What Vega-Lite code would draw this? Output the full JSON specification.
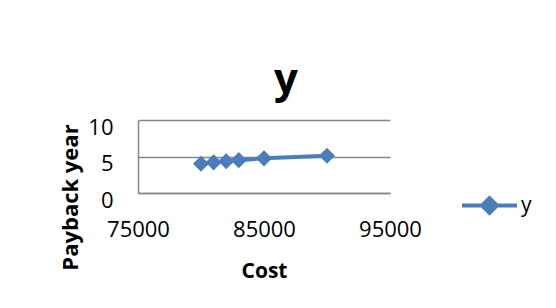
{
  "$schema": "https://vega.github.io/schema/vega-lite/v6.json",
  "width": 252,
  "height": 73,
  "autosize": {"type": "none"},
  "padding": {"left": 138, "top": 120, "right": 166, "bottom": 115},
  "background": "white",
  "title": {
    "text": "y",
    "fontSize": 42,
    "font": "Open Sans",
    "fontWeight": "bold",
    "color": "black",
    "anchor": "middle",
    "frame": "group",
    "dx": 22,
    "offset": 14
  },
  "data": {
    "values": [
      {"cost": 80000, "year": 4.0, "series": "y"},
      {"cost": 81000, "year": 4.2, "series": "y"},
      {"cost": 82000, "year": 4.35, "series": "y"},
      {"cost": 83000, "year": 4.5, "series": "y"},
      {"cost": 85000, "year": 4.75, "series": "y"},
      {"cost": 90000, "year": 5.1, "series": "y"}
    ]
  },
  "mark": {
    "type": "line",
    "strokeWidth": 4,
    "point": {"shape": "diamond", "size": 260, "filled": true, "opacity": 1}
  },
  "encoding": {
    "x": {
      "field": "cost",
      "type": "quantitative",
      "title": "Cost",
      "scale": {"domain": [75000, 95000], "nice": false, "zero": false},
      "axis": {
        "values": [75000, 85000, 95000],
        "format": "d",
        "grid": false,
        "ticks": false,
        "domainColor": "#868686",
        "domainWidth": 1.5,
        "labelFont": "Open Sans",
        "labelFontSize": 22,
        "labelColor": "black",
        "labelFlush": false,
        "labelBaseline": "middle",
        "labelPadding": 36,
        "titleFont": "Open Sans",
        "titleFontSize": 21,
        "titleFontWeight": "bold",
        "titleColor": "black",
        "titleBaseline": "middle",
        "titleY": 78
      }
    },
    "y": {
      "field": "year",
      "type": "quantitative",
      "title": "Payback year",
      "scale": {"domain": [0, 10], "nice": false},
      "axis": {
        "values": [0, 5, 10],
        "grid": true,
        "gridColor": "#868686",
        "gridWidth": 1.5,
        "ticks": false,
        "domainColor": "#868686",
        "domainWidth": 1.5,
        "labelFont": "Open Sans",
        "labelFontSize": 22,
        "labelColor": "black",
        "labelPadding": 25,
        "labelOffset": 7,
        "labelBaseline": "middle",
        "titleFont": "Open Sans",
        "titleFontSize": 22,
        "titleFontWeight": "bold",
        "titleColor": "black",
        "titleAngle": 270,
        "titleBaseline": "middle",
        "titleAlign": "center",
        "titleX": -68,
        "titleY": 77
      }
    },
    "color": {
      "field": "series",
      "type": "nominal",
      "scale": {"domain": ["y"], "range": ["#4A7EBB"]},
      "legend": {
        "title": null,
        "orient": "none",
        "legendX": 322,
        "legendY": 56,
        "symbolType": "M-1,0L1,0M0,-0.27L0.27,0L0,0.27L-0.27,0Z",
        "symbolSize": 3025,
        "symbolStrokeWidth": 4,
        "symbolFillColor": "#4A7EBB",
        "symbolStrokeColor": "#4A7EBB",
        "labelFont": "Open Sans",
        "labelFontSize": 21,
        "labelColor": "black",
        "labelOffset": 2
      }
    }
  },
  "config": {
    "view": {"stroke": null}
  }
}
